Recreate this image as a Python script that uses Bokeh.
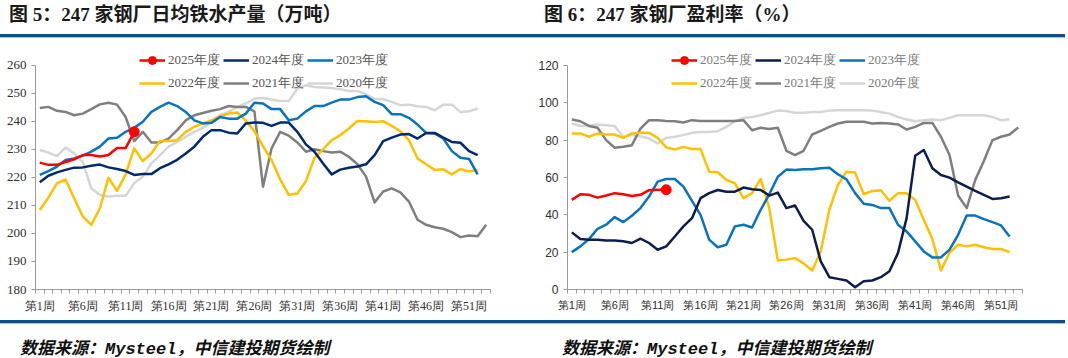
from bokeh.plotting import figure
from bokeh.models import (Range1d, FixedTicker, Legend, LegendItem, Div)
from bokeh.layouts import column, row
from bokeh.embed import file_html
from bokeh.resources import INLINE

# ---------------- data ----------------
tick_weeks = [1, 6, 11, 16, 21, 26, 31, 36, 41, 46, 51]
tick_labels = ["第1周", "第6周", "第11周", "第16周", "第21周", "第26周",
               "第31周", "第36周", "第41周", "第46周", "第51周"]
series_names = ["2025年度", "2024年度", "2023年度", "2022年度", "2021年度", "2020年度"]

# 日均铁水产量（万吨）
out_2025 = [225.3, 224.5, 224.5, 225.5, 226.5, 228.0, 228.0, 227.5, 228.0, 230.5, 230.5, 236.3]
out_2024 = [218.3, 220.6, 221.8, 222.7, 223.5, 223.6, 224.2, 224.6, 223.6, 223.0,
            222.3, 220.9, 221.2, 221.2, 223.3, 224.7, 226.3, 228.6, 231.0, 234.5,
            236.9, 236.9, 236.0, 235.7, 239.3, 239.6, 239.5, 238.4, 239.6, 239.6,
            236.3, 231.8, 229.2, 225.0, 221.1, 222.8, 223.5, 223.9, 224.7, 228.0,
            233.0, 234.2, 235.3, 235.5, 233.9, 235.9, 235.9, 234.2, 232.7, 232.4,
            229.4, 228.0]
out_2023 = [220.9, 222.3, 223.9, 226.2, 226.8, 227.8, 229.2, 231.0, 233.9, 234.2,
            236.3, 237.7, 239.9, 243.4, 245.2, 246.7, 245.5, 243.4, 240.4, 239.3,
            239.5, 241.6, 241.0, 241.0, 242.8, 246.7, 246.4, 244.4, 244.4, 240.4,
            241.0, 243.6, 245.5, 245.5, 246.7, 247.8, 247.8, 248.7, 249.0, 247.0,
            245.8, 242.6, 242.6, 241.3, 238.9, 235.9, 235.7, 233.9, 229.4, 227.0,
            226.6, 221.1]
out_2022 = [208.4, 212.8, 217.9, 219.3, 212.6, 206.1, 203.1, 209.0, 219.9, 215.2,
            221.1, 230.4, 225.9, 228.6, 233.0, 233.0, 233.3, 236.3, 238.1, 239.3,
            240.4, 241.9, 242.8, 243.2, 240.3, 236.5, 231.2, 226.2, 219.3, 213.8,
            214.3, 218.7, 227.0, 230.0, 233.3, 235.1, 237.5, 240.2, 240.1, 239.8,
            240.1, 238.4, 236.5, 233.3, 226.8, 224.7, 222.7, 222.9, 221.1, 223.0,
            222.1, 222.7]
out_2021 = [244.8, 245.2, 243.8, 243.4, 242.2, 242.8, 244.4, 246.1, 246.7, 246.0,
            241.6, 233.0, 236.3, 232.5, 232.5, 233.9, 236.9, 240.4, 242.2, 243.0,
            243.8, 244.4, 245.5, 245.2, 245.2, 243.6, 216.7, 230.4, 236.3, 234.9,
            232.5, 229.2, 230.1, 229.4, 228.9, 229.2, 227.4, 224.7, 220.3, 211.1,
            215.0, 216.1, 214.7, 211.4, 204.9, 203.1, 202.2, 201.7, 200.5, 198.7,
            199.3, 199.0, 203.1]
out_2020 = [229.8, 228.9, 227.6, 230.7, 228.6, 225.6, 216.1, 213.8, 213.2, 213.5,
            213.5, 217.9, 220.3, 225.0, 228.0, 231.0, 232.7, 234.5, 236.3, 237.7,
            239.9, 242.2, 243.4, 245.2, 246.4, 248.1, 248.4, 247.8, 247.3, 247.3,
            251.7, 252.9, 252.3, 252.1, 251.9, 251.5, 250.9, 250.9, 249.7, 248.1,
            247.9, 247.0, 245.8, 246.0, 245.4, 245.2, 244.0, 246.0, 246.0, 243.4,
            243.6, 244.6]

# 盈利率（%）
pr_2025 = [48.0, 51.0, 50.7, 49.2, 50.3, 51.6, 51.0, 50.1, 50.7, 53.2, 53.4, 53.4]
pr_2024 = [30.6, 27.0, 26.7, 26.7, 26.3, 26.3, 25.8, 24.9, 27.2, 24.9,
           21.3, 23.1, 28.4, 33.8, 38.2, 48.9, 51.6, 53.3, 52.4, 52.4,
           54.6, 53.7, 53.3, 50.3, 51.9, 43.6, 45.0, 36.8, 32.0, 15.1,
           6.6, 5.7, 4.8, 1.2, 4.4, 4.8, 6.6, 9.8, 19.6, 38.2,
           71.6, 74.7, 64.9, 61.3, 59.9, 57.4, 55.1, 52.8, 50.7, 48.5,
           48.9, 49.8]
pr_2023 = [20.0, 23.1, 27.0, 32.5, 34.7, 38.8, 36.1, 39.5, 43.6, 49.8,
           57.8, 59.2, 59.2, 55.1, 47.5, 40.0, 26.7, 22.6, 24.0, 33.8,
           34.7, 33.2, 42.7, 51.0, 60.4, 64.2, 64.0, 64.4, 64.4, 64.9,
           65.2, 61.7, 59.0, 51.6, 45.9, 45.3, 43.6, 43.6, 34.7, 31.1,
           25.8, 20.4, 17.2, 17.2, 21.3, 29.3, 39.6, 39.6, 37.7, 36.1,
           34.3, 28.4]
pr_2022 = [83.6, 83.6, 81.8, 83.6, 83.0, 83.0, 81.2, 83.6, 83.9, 83.9,
           81.2, 76.1, 75.0, 76.4, 75.2, 75.2, 63.1, 62.8, 58.7, 56.9,
           48.9, 51.6, 59.2, 43.6, 15.5, 16.0, 16.9, 13.9, 10.2, 20.4,
           42.7, 56.0, 63.1, 62.6, 51.0, 52.8, 53.2, 47.5, 51.6, 51.6,
           48.0, 37.3, 27.0, 10.2, 19.6, 24.0, 23.1, 24.0, 22.6, 21.7,
           21.7, 20.0]
pr_2021 = [91.0, 90.1, 87.6, 86.6, 80.0, 75.9, 76.4, 77.3, 86.2, 90.7,
           90.7, 90.3, 90.1, 89.4, 90.7, 90.3, 90.3, 90.3, 90.3, 90.3,
           90.7, 85.3, 86.6, 85.9, 86.6, 74.3, 72.0, 74.3, 83.0, 85.0,
           87.1, 88.9, 89.8, 89.8, 89.8, 88.9, 89.2, 88.9, 88.4, 85.7,
           87.1, 89.2, 89.2, 81.8, 72.0, 50.3, 43.6, 58.7, 68.8, 80.0,
           81.8, 83.0, 86.8]
pr_2020 = [88.9, 87.6, 87.6, 88.4, 88.0, 87.5, 81.8, 82.7, 82.1, 80.9,
           78.2, 81.2, 81.8, 82.7, 83.9, 84.4, 84.4, 84.8, 87.1, 90.1,
           91.9, 92.4, 93.3, 94.6, 95.8, 95.6, 94.6, 94.6, 95.1, 95.1,
           95.8, 96.0, 96.0, 96.0, 96.0, 95.8, 95.1, 94.2, 92.4, 91.0,
           90.1, 90.7, 91.0, 90.7, 91.9, 93.3, 93.3, 93.3, 93.3, 92.4,
           90.7, 91.2]

left_colors = ["#FF0000", "#002A6E", "#0A72BE", "#FFC000", "#7F7F7F", "#D6D6D6"]
right_colors = ["#FF0000", "#0D1E4E", "#0A72BE", "#FFC000", "#7F7F7F", "#D6D6D6"]

FIG_H = 272
MB_TOP = 5
MB_BOTTOM = 25
AXIS_PX = 225.0  # pixel length of the visible axis span


def make_fig(series, colors, y0, y1, ystep, mb_left, mb_right,
             tick_font, ytick_size, xtick_size, legend_color):
    frame_h = FIG_H - MB_TOP - MB_BOTTOM
    y_top = y0 + frame_h * (y1 - y0) / AXIS_PX  # frame extends above axis end for legend
    p = figure(width=526, height=FIG_H, x_range=Range1d(0.5, 53.5),
               y_range=Range1d(y0, y_top), output_backend="svg",
               toolbar_location=None, min_border_left=mb_left,
               min_border_right=mb_right, min_border_top=MB_TOP,
               min_border_bottom=MB_BOTTOM)
    p.outline_line_color = None
    p.grid.visible = False
    p.background_fill_color = "white"
    p.border_fill_color = "white"

    xa = p.xaxis[0]
    xa.ticker = FixedTicker(ticks=tick_weeks,
                            minor_ticks=[i + 0.5 for i in range(0, 54)])
    xa.major_label_overrides = {w: l for w, l in zip(tick_weeks, tick_labels)}
    xa.major_tick_line_color = None
    xa.minor_tick_in = 0
    xa.minor_tick_out = 4
    xa.minor_tick_line_color = "#9A9A9A"
    xa.axis_line_color = "#9A9A9A"
    xa.major_label_text_font = tick_font
    xa.major_label_text_font_size = xtick_size
    xa.major_label_text_color = "#303030"
    xa.major_label_standoff = 3

    ya = p.yaxis[0]
    ya.bounds = (y0, y1)
    ya.ticker = FixedTicker(ticks=list(range(y0, y1 + 1, ystep)))
    ya.major_tick_in = 0
    ya.major_tick_out = 4
    ya.major_tick_line_color = "#9A9A9A"
    ya.minor_tick_line_color = None
    ya.axis_line_color = "#9A9A9A"
    ya.major_label_text_font = tick_font
    ya.major_label_text_font_size = ytick_size
    ya.major_label_text_color = "#303030"
    ya.major_label_standoff = 5

    renderers = {}
    for i in reversed(range(len(series))):
        vals = series[i]
        xs = list(range(1, len(vals) + 1))
        r = p.line(xs, vals, line_color=colors[i], line_width=2.5,
                   line_join="round")
        rs = [r]
        if i == 0:
            s = p.scatter([xs[-1]], [vals[-1]], size=10, color=colors[i])
            rs.append(s)
        renderers[i] = rs

    items = [LegendItem(label=series_names[i], renderers=renderers[i])
             for i in range(len(series))]
    leg = Legend(items=items, location=(104, 196), orientation="horizontal",
                 ncols=3, padding=0, margin=0, spacing=3, glyph_width=26,
                 glyph_height=20, label_height=20, label_standoff=3,
                 border_line_alpha=0, background_fill_alpha=0,
                 label_text_font="Liberation Serif",
                 label_text_font_size="13px",
                 label_text_color=legend_color)
    p.add_layout(leg, "center")
    return p


p1 = make_fig([out_2025, out_2024, out_2023, out_2022, out_2021, out_2020],
              left_colors, 180, 260, 10, 35, 36, "Liberation Serif",
              "13px", "12px", "#555555")
p2 = make_fig([pr_2025, pr_2024, pr_2023, pr_2022, pr_2021, pr_2020],
              right_colors, 0, 120, 20, 41, 30, "Liberation Sans",
              "12px", "11px", "#7A7A7A")

title_style = ("position:absolute;top:0px;font-weight:bold;font-size:19px;"
               "line-height:19px;font-family:'Liberation Serif','Noto Sans CJK SC';"
               "color:#1a1a1a;white-space:nowrap;")
bar = "position:absolute;left:-8px;width:1068px;"
header = Div(width=1052, height=33, text=(
    '<div style="position:relative;width:1052px;height:33px;">'
    f'<div style="{title_style}left:4px;">图 5：247 家钢厂日均铁水产量（万吨）</div>'
    f'<div style="{title_style}left:539px;">图 6：247 家钢厂盈利率（%）</div>'
    f'<div style="{bar}top:29px;height:3px;background:#0E4F86;"></div>'
    f'<div style="{bar}top:32px;height:1px;background:#A9C1D9;"></div>'
    '</div>'))

foot_style = ("position:absolute;top:21px;font-weight:bold;font-style:italic;"
              "font-size:17px;line-height:17px;"
              "font-family:'Liberation Mono','Noto Sans CJK SC';color:#111;white-space:nowrap;")
footer = Div(width=1052, height=37, text=(
    '<div style="position:relative;width:1052px;height:37px;">'
    f'<div style="{bar}top:0;height:3px;background:#0E4F86;"></div>'
    f'<div style="{bar}top:3px;height:1px;background:#A9C1D9;"></div>'
    f'<div style="{foot_style}left:15px;">数据来源：Mysteel，中信建投期货绘制</div>'
    f'<div style="{foot_style}left:557px;">数据来源：Mysteel，中信建投期货绘制</div>'
    '</div>'))

layout = column(header, row(p1, p2), footer)
open("out.html", "w").write(file_html(layout, INLINE))
